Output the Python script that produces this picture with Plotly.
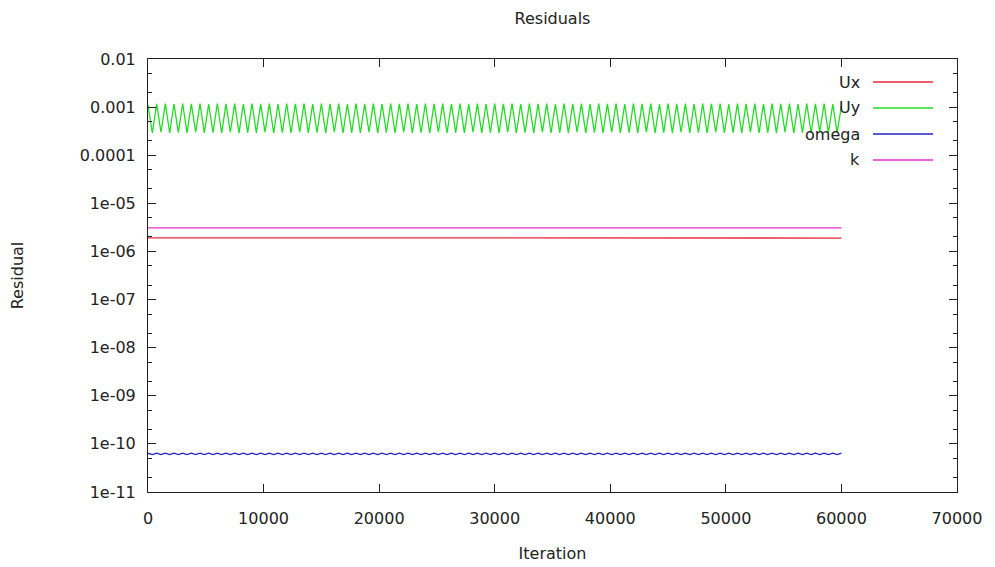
import plotly.graph_objects as go

# ---------------- data ----------------
# Uy oscillation: peak and trough values, alternating every ~375 iterations
uy_peaks = [1.10e-3, 1.17e-3, 1.18e-3, 1.16e-3, 1.19e-3, 1.17e-3, 1.18e-3, 1.16e-3, 1.19e-3, 1.17e-3,
            1.18e-3, 1.16e-3, 1.19e-3, 1.17e-3, 1.18e-3, 1.16e-3, 1.19e-3, 1.17e-3, 1.18e-3, 1.16e-3,
            1.19e-3, 1.17e-3, 1.18e-3, 1.16e-3, 1.19e-3, 1.17e-3, 1.18e-3, 1.16e-3, 1.19e-3, 1.17e-3,
            1.18e-3, 1.16e-3, 1.19e-3, 1.17e-3, 1.18e-3, 1.16e-3, 1.19e-3, 1.17e-3, 1.18e-3, 1.16e-3,
            1.19e-3, 1.17e-3, 1.18e-3, 1.16e-3, 1.19e-3, 1.17e-3, 1.18e-3, 1.16e-3, 1.19e-3, 1.17e-3,
            1.18e-3, 1.16e-3, 1.19e-3, 1.17e-3, 1.18e-3, 1.16e-3, 1.19e-3, 1.17e-3, 1.18e-3, 1.16e-3,
            1.19e-3, 1.17e-3, 1.18e-3, 1.16e-3, 1.19e-3, 1.17e-3, 1.18e-3, 1.16e-3, 1.19e-3, 1.17e-3,
            1.18e-3, 1.16e-3, 1.19e-3, 1.17e-3, 1.18e-3, 1.16e-3, 1.19e-3, 1.17e-3, 1.18e-3, 1.16e-3,
            1.05e-3]
uy_troughs = [2.9e-4, 3.0e-4, 2.9e-4, 2.95e-4, 2.9e-4, 3.0e-4, 2.9e-4, 2.95e-4, 2.9e-4, 3.0e-4,
              2.9e-4, 2.95e-4, 2.9e-4, 3.0e-4, 2.9e-4, 2.95e-4, 2.9e-4, 3.0e-4, 2.9e-4, 2.95e-4,
              2.9e-4, 3.0e-4, 2.9e-4, 2.95e-4, 2.9e-4, 3.0e-4, 2.9e-4, 2.95e-4, 2.9e-4, 3.0e-4,
              2.9e-4, 2.95e-4, 2.9e-4, 3.0e-4, 2.9e-4, 2.95e-4, 2.9e-4, 3.0e-4, 2.9e-4, 2.95e-4,
              2.9e-4, 3.0e-4, 2.9e-4, 2.95e-4, 2.9e-4, 3.0e-4, 2.9e-4, 2.95e-4, 2.9e-4, 3.0e-4,
              2.9e-4, 2.95e-4, 2.9e-4, 3.0e-4, 2.9e-4, 2.95e-4, 2.9e-4, 3.0e-4, 2.9e-4, 2.95e-4,
              2.9e-4, 3.0e-4, 2.9e-4, 2.95e-4, 2.9e-4, 3.0e-4, 2.9e-4, 2.95e-4, 2.9e-4, 3.0e-4,
              2.9e-4, 2.95e-4, 2.9e-4, 3.0e-4, 2.9e-4, 2.95e-4, 2.9e-4, 3.0e-4, 2.9e-4, 2.95e-4]
# omega small wiggle: high / low values on the same half-period grid
omega_high = [6.4e-11] * 81
omega_low = [6.0e-11] * 80

ux_iter = [0, 10000, 20000, 30000, 40000, 50000, 60000]
ux_vals = [1.92e-6, 1.92e-6, 1.91e-6, 1.91e-6, 1.90e-6, 1.90e-6, 1.90e-6]
k_iter = [0, 10000, 20000, 30000, 40000, 50000, 60000]
k_vals = [3.10e-6, 3.10e-6, 3.09e-6, 3.09e-6, 3.08e-6, 3.08e-6, 3.08e-6]

y_tickvals = [1e-2, 1e-3, 1e-4, 1e-5, 1e-6, 1e-7, 1e-8, 1e-9, 1e-10, 1e-11]
y_ticktext = ["0.01", "0.001", "0.0001", "1e-05", "1e-06", "1e-07", "1e-08", "1e-09", "1e-10", "1e-11"]
x_tickvals = [0, 10000, 20000, 30000, 40000, 50000, 60000, 70000]
x_ticktext = ["0", "10000", "20000", "30000", "40000", "50000", "60000", "70000"]

series_names = ["Ux", "Uy", "omega", "k"]
series_colors = ["#e8283c", "#22dd22", "#2222c0", "#e030c8"]

# ---------------- assemble ----------------
def interleave(highs, lows, half):
    xs, ys = [], []
    for i, h in enumerate(highs):
        xs.append(i * 2 * half)
        ys.append(h)
        if i < len(lows):
            xs.append(i * 2 * half + half)
            ys.append(lows[i])
    return xs, ys

uy_iter, uy_vals = interleave(uy_peaks, uy_troughs, 375)
om_iter, om_vals = interleave(omega_high, omega_low, 375)

fig = go.Figure()
data = {"Ux": (ux_iter, ux_vals), "Uy": (uy_iter, uy_vals),
        "omega": (om_iter, om_vals), "k": (k_iter, k_vals)}
for name, col in zip(series_names, series_colors):
    xs, ys = data[name]
    fig.add_trace(go.Scatter(x=xs, y=ys, mode="lines", name=name,
                             line=dict(color=col, width=1.3), showlegend=False))

# page is rendered with an ~8px offset; target plot area 148..957 x 59..492
OFF = 8
L, R, T, B = 148 - OFF, 995 - 957 + OFF, 59 - OFF, 567 - 492 + OFF
PW = 995 - L - R
PH = 567 - T - B
PL, PT = 148, 59

key_y0 = 82
key_dy = 26
for i, (name, col) in enumerate(zip(series_names, series_colors)):
    ypix = key_y0 + i * key_dy
    yp = 1 - (ypix - PT) / PH
    fig.add_annotation(xref="paper", yref="paper", x=(862 - PL) / PW, y=yp,
                       text=name, showarrow=False, xanchor="right", yanchor="middle",
                       font=dict(size=16, color="#222"))
    fig.add_shape(type="line", xref="paper", yref="paper",
                  x0=(873 - PL) / PW, x1=(933 - PL) / PW, y0=yp, y1=yp,
                  line=dict(color=col, width=1.3))

axis_common = dict(showline=True, linecolor="#222", linewidth=1, mirror="ticks",
                   ticks="inside", tickcolor="#222", showgrid=False, zeroline=False,
                   automargin=False, tickfont=dict(size=16, color="#222"))

fig.update_xaxes(range=[0, 70000], tickvals=x_tickvals, ticktext=x_ticktext, ticklen=8,
                 ticklabelstandoff=12,
                 title=dict(text="Iteration", font=dict(size=16, color="#222"), standoff=20),
                 **axis_common)
fig.update_yaxes(type="log", range=[-11, -2], tickvals=y_tickvals, ticktext=y_ticktext, ticklen=8,
                 ticklabelstandoff=8,
                 minor=dict(ticks="inside", ticklen=4, tickcolor="#222", showgrid=False),
                 title=dict(text="Residual", font=dict(size=16, color="#222"), standoff=52),
                 **axis_common)

fig.update_layout(
    width=995, height=567,
    margin=dict(l=L, r=R, t=T, b=B),
    paper_bgcolor="white", plot_bgcolor="white",
    font=dict(family="DejaVu Sans", size=16, color="#222"),
    title=dict(text="Residuals", x=(PL + 957) / 2 / 995 - OFF / 995, xanchor="center",
               y=1 - (18 - OFF) / 567, yanchor="middle", font=dict(size=16, color="#222")),
)

fig.write_html("out.html")
